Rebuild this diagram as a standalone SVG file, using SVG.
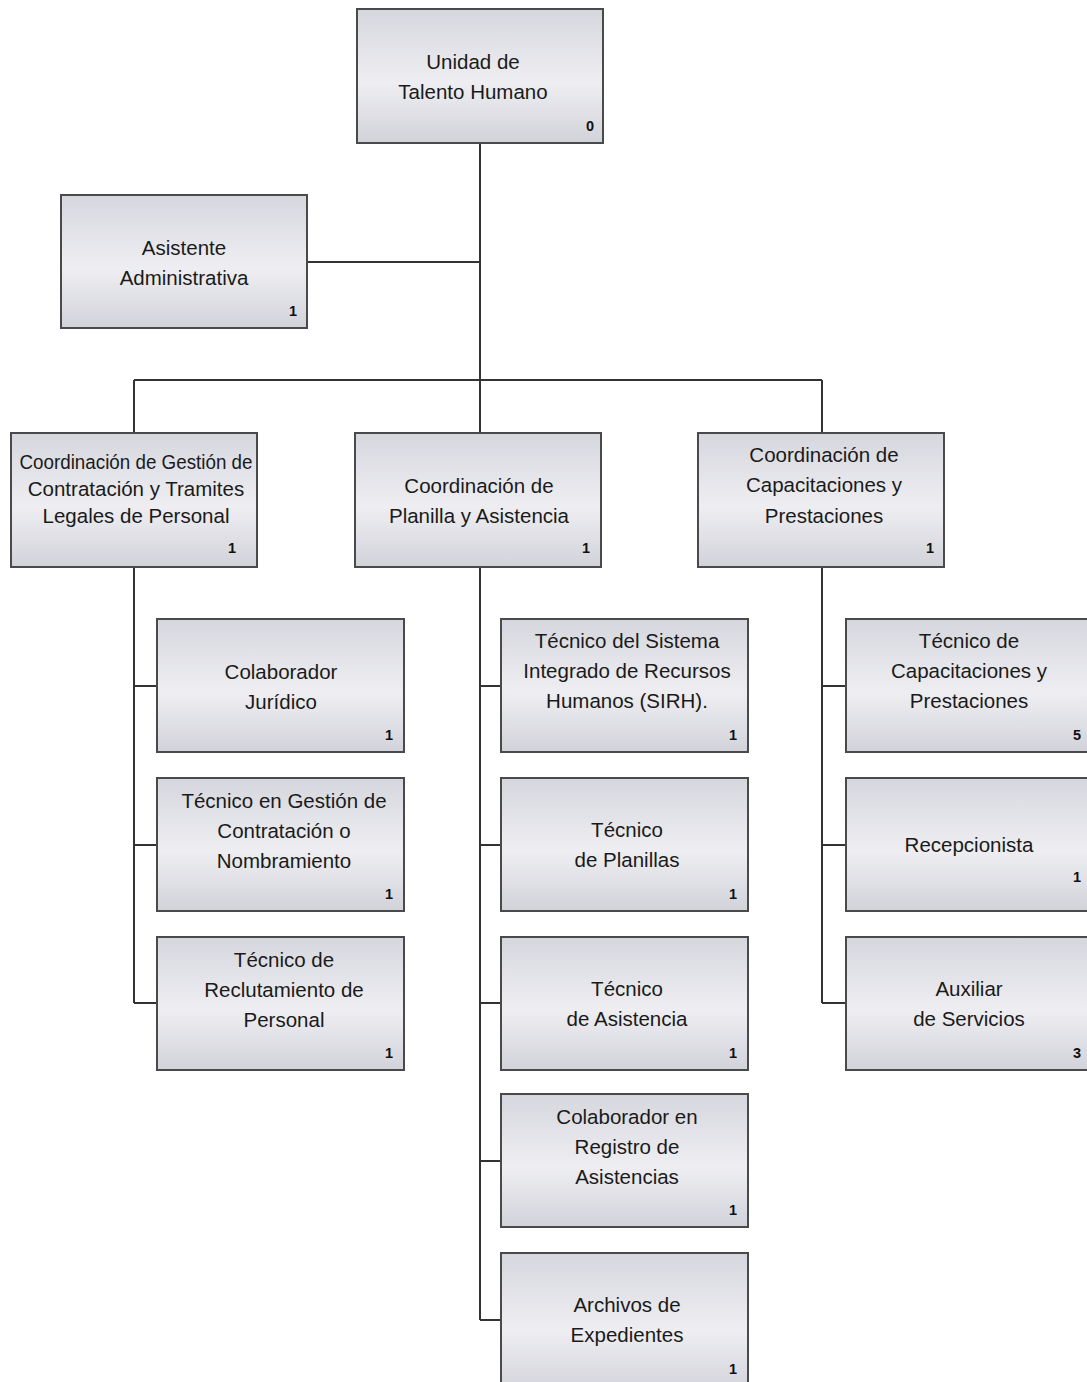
<svg xmlns="http://www.w3.org/2000/svg" width="1087" height="1382" viewBox="0 0 1087 1382">
<defs>
<linearGradient id="g" x1="0" y1="0" x2="0" y2="1">
<stop offset="0" stop-color="#d6d7de"/>
<stop offset="0.55" stop-color="#eeeef2"/>
<stop offset="1" stop-color="#d2d3da"/>
</linearGradient>
</defs>
<style>
.b{fill:url(#g);stroke:#4a4a4a;stroke-width:2}
.t{font-family:"Liberation Sans",Arial,sans-serif;font-size:20.5px;fill:#1a1a1a;text-anchor:middle}
.n{font-family:"Liberation Sans",Arial,sans-serif;font-size:14.5px;font-weight:bold;fill:#111;text-anchor:end}
.c{stroke:#333;stroke-width:2;fill:none}
</style>
<rect width="1087" height="1382" fill="#fff"/>
<g id="connectors" class="c">
<path d="M480 143V380M307 262H480M134 380H822M134 380V433M480 380V433M822 380V433"/>
<path d="M134 567V1003M134 686H157M134 845H157M134 1003H157"/>
<path d="M480 567V1320M480 686H501M480 845H501M480 1003H501M480 1161H501M480 1320H501"/>
<path d="M822 567V1003M822 686H846M822 845H846M822 1003H846"/>
</g>
<g id="n0"><rect class="b" x="357" y="9" width="246" height="134"/><text class="t" x="473" y="69">Unidad de</text><text class="t" x="473" y="99">Talento Humano</text><text class="n" x="594" y="131">0</text></g>
<g id="n1"><rect class="b" x="61" y="195" width="246" height="133"/><text class="t" x="184" y="255">Asistente</text><text class="t" x="184" y="285">Administrativa</text><text class="n" x="297" y="316">1</text></g>
<g id="n2"><rect class="b" x="11" y="433" width="246" height="134"/><text class="t" x="136" y="469" textLength="233" lengthAdjust="spacingAndGlyphs">Coordinación de Gestión de</text><text class="t" x="136" y="496">Contratación y Tramites</text><text class="t" x="136" y="523">Legales de Personal</text><text class="n" x="236" y="553">1</text></g>
<g id="n3"><rect class="b" x="355" y="433" width="246" height="134"/><text class="t" x="479" y="493">Coordinación de</text><text class="t" x="479" y="523">Planilla y Asistencia</text><text class="n" x="590" y="553">1</text></g>
<g id="n4"><rect class="b" x="698" y="433" width="246" height="134"/><text class="t" x="824" y="462">Coordinación de</text><text class="t" x="824" y="492">Capacitaciones y</text><text class="t" x="824" y="523">Prestaciones</text><text class="n" x="934" y="553">1</text></g>
<g id="n5"><rect class="b" x="157" y="619" width="247" height="133"/><text class="t" x="281" y="679">Colaborador</text><text class="t" x="281" y="709">Jurídico</text><text class="n" x="393" y="740">1</text></g>
<g id="n6"><rect class="b" x="157" y="778" width="247" height="133"/><text class="t" x="284" y="808">Técnico en Gestión de</text><text class="t" x="284" y="838">Contratación o</text><text class="t" x="284" y="868">Nombramiento</text><text class="n" x="393" y="899">1</text></g>
<g id="n7"><rect class="b" x="157" y="937" width="247" height="133"/><text class="t" x="284" y="967">Técnico de</text><text class="t" x="284" y="997">Reclutamiento de</text><text class="t" x="284" y="1027">Personal</text><text class="n" x="393" y="1058">1</text></g>
<g id="n8"><rect class="b" x="501" y="619" width="247" height="133"/><text class="t" x="627" y="648">Técnico del Sistema</text><text class="t" x="627" y="678">Integrado de Recursos</text><text class="t" x="627" y="708">Humanos (SIRH).</text><text class="n" x="737" y="740">1</text></g>
<g id="n9"><rect class="b" x="501" y="778" width="247" height="133"/><text class="t" x="627" y="837">Técnico</text><text class="t" x="627" y="867">de Planillas</text><text class="n" x="737" y="899">1</text></g>
<g id="n10"><rect class="b" x="501" y="937" width="247" height="133"/><text class="t" x="627" y="996">Técnico</text><text class="t" x="627" y="1026">de Asistencia</text><text class="n" x="737" y="1058">1</text></g>
<g id="n11"><rect class="b" x="501" y="1094" width="247" height="133"/><text class="t" x="627" y="1124">Colaborador en</text><text class="t" x="627" y="1154">Registro de</text><text class="t" x="627" y="1184">Asistencias</text><text class="n" x="737" y="1215">1</text></g>
<g id="n12"><rect class="b" x="501" y="1253" width="247" height="140"/><text class="t" x="627" y="1312">Archivos de</text><text class="t" x="627" y="1342">Expedientes</text><text class="n" x="737" y="1374">1</text></g>
<g id="n13"><rect class="b" x="846" y="619" width="250" height="133"/><text class="t" x="969" y="648">Técnico de</text><text class="t" x="969" y="678">Capacitaciones y</text><text class="t" x="969" y="708">Prestaciones</text><text class="n" x="1081" y="740">5</text></g>
<g id="n14"><rect class="b" x="846" y="778" width="250" height="133"/><text class="t" x="969" y="852">Recepcionista</text><text class="n" x="1081" y="882">1</text></g>
<g id="n15"><rect class="b" x="846" y="937" width="250" height="133"/><text class="t" x="969" y="996">Auxiliar</text><text class="t" x="969" y="1026">de Servicios</text><text class="n" x="1081" y="1058">3</text></g>
</svg>
